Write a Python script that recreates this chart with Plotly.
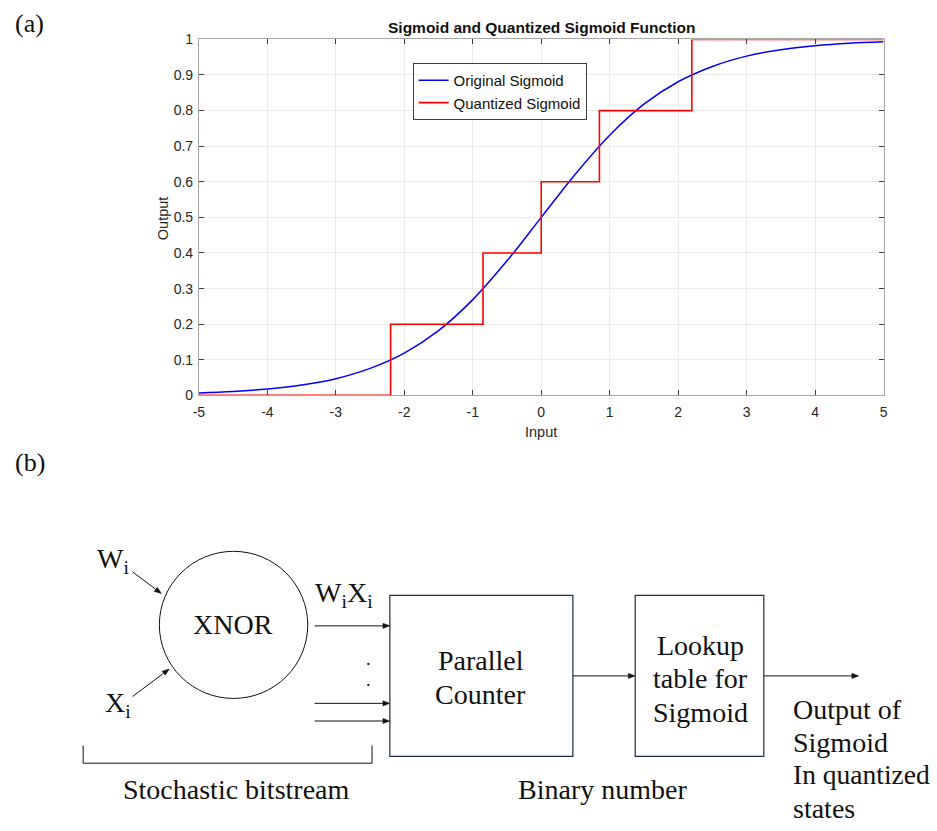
import plotly.graph_objects as go

W, H = 937, 831

# ---- data ----
sig_x = [-5, -4.5, -4, -3.5, -3, -2.5, -2, -1.5, -1, -0.5, 0, 0.5, 1, 1.5, 2, 2.5, 3, 3.5, 4, 4.5, 5]
sig_y = [0.007, 0.011, 0.018, 0.029, 0.047, 0.076, 0.119, 0.182, 0.269, 0.378, 0.5,
         0.622, 0.731, 0.818, 0.881, 0.924, 0.953, 0.971, 0.982, 0.989, 0.993]
q_x = [-5, -2.2, -0.85, 0, 0.85, 2.2, 5]
q_y = [0, 0.2, 0.4, 0.6, 0.8, 1.0, 1.0]
x_ticks = [-5, -4, -3, -2, -1, 0, 1, 2, 3, 4, 5]
x_tick_text = ["-5", "-4", "-3", "-2", "-1", "0", "1", "2", "3", "4", "5"]
y_ticks = [0, 0.1, 0.2, 0.3, 0.4, 0.5, 0.6, 0.7, 0.8, 0.9, 1]
y_tick_text = ["0", "0.1", "0.2", "0.3", "0.4", "0.5", "0.6", "0.7", "0.8", "0.9", "1"]


def px(x):
    return x / W


def py(y):
    return 1 - y / H


fig = go.Figure()
fig.add_trace(go.Scatter(x=sig_x, y=sig_y, mode="lines", name="Original Sigmoid",
                         line=dict(color="#0000FF", width=1.5, shape="spline")))
fig.add_trace(go.Scatter(x=q_x, y=q_y, mode="lines", name="Quantized Sigmoid",
                         line=dict(color="#FF0000", width=1.6, shape="hv")))

SANS = "Liberation Sans, Arial, sans-serif"
SERIF = "Liberation Serif, Times New Roman, serif"
axcol = "#A6A6A6"

fig.update_layout(
    width=W, height=H,
    margin=dict(l=0, r=0, t=0, b=0),
    plot_bgcolor="white", paper_bgcolor="white",
    showlegend=True,
    legend=dict(x=px(411), y=py(56), xanchor="left", yanchor="top",
                bgcolor="white", bordercolor="#404040", borderwidth=1,
                font=dict(family=SANS, size=15, color="#111"),
                itemwidth=30, tracegroupgap=0),
    xaxis=dict(domain=[px(195), px(887)], range=[-5, 5], tickvals=x_ticks, ticktext=x_tick_text,
               ticks="inside", ticklen=5, tickcolor="#404040", mirror="ticks",
               showline=True, linecolor=axcol, linewidth=1,
               showgrid=True, gridcolor="#EBEBEB", zeroline=False,
               tickfont=dict(family=SANS, size=14, color="#262626"),
               ticklabelstandoff=4, anchor="y"),
    yaxis=dict(domain=[py(395), py(32)], range=[0, 1], tickvals=y_ticks, ticktext=y_tick_text,
               ticks="inside", ticklen=5, tickcolor="#404040", mirror="ticks",
               showline=True, linecolor=axcol, linewidth=1,
               showgrid=True, gridcolor="#EBEBEB", zeroline=False,
               tickfont=dict(family=SANS, size=14, color="#262626"),
               ticklabelstandoff=2, anchor="x"),
)

ann = []


def text(x, y, s, size=28, family=SERIF, xanchor="center", **kw):
    ann.append(dict(x=px(x), y=py(y), xref="paper", yref="paper", text=s, showarrow=False,
                    xanchor=xanchor, yanchor="middle",
                    font=dict(family=family, size=size, color=kw.pop("color", "#111")), **kw))


# chart texts
text(541, 20, "<b>Sigmoid and Quantized Sigmoid Function</b>", size=15.5, family=SANS)
text(541, 432, "Input", size=14.5, family=SANS, color="#262626")
text(159, 214, "Output", size=14.5, family=SANS, color="#262626", textangle=-90)
text(24, 16, "(a)", size=26)
text(24, 463, "(b)", size=26)

# diagram texts
text(108, 563, "W<sub>i</sub>")
text(113, 710, "X<sub>i</sub>")
text(229, 629, "XNOR")
text(342, 598, "W<sub>i</sub>X<sub>i</sub>")
text(366, 664, ".", size=18)
text(366, 685, ".", size=18)
text(480, 665, "Parallel")
text(480, 700, "Counter")
text(702, 650, "Lookup")
text(702, 684, "table for")
text(702, 718, "Sigmoid")
text(233, 797, "Stochastic bitstream")
text(603, 797, "Binary number")
text(793, 715, "Output of", xanchor="left")
text(793, 749, "Sigmoid", xanchor="left")
text(793, 782, "In quantized", xanchor="left", size=27.5)
text(793, 816, "states", xanchor="left")

fig.update_layout(annotations=ann)

shapes = []


def arrow(x0, y0, x1, y1, head=7, half=2.6):
    dx, dy = x1 - x0, y1 - y0
    L = (dx * dx + dy * dy) ** 0.5
    ux, uy = dx / L, dy / L
    bx, by = x1 - ux * head, y1 - uy * head
    nx, ny = -uy, ux
    shapes.append(dict(type="line", xref="paper", yref="paper",
                       x0=px(x0), y0=py(y0), x1=px(bx), y1=py(by),
                       line=dict(color="#111", width=1)))
    p = (f"M {px(x1)} {py(y1)} L {px(bx + nx * half)} {py(by + ny * half)} "
         f"L {px(bx - nx * half)} {py(by - ny * half)} Z")
    shapes.append(dict(type="path", xref="paper", yref="paper", path=p,
                       fillcolor="#111", line=dict(color="#111", width=0.5)))


arrow(128, 575, 157, 597)
arrow(128, 702, 165, 674)
arrow(312, 630, 388, 630)
arrow(312, 709, 388, 709)
arrow(312, 727, 388, 727)
arrow(573, 681, 636, 681)
arrow(766, 681, 862, 681)

shapes.append(dict(type="circle", xref="paper", yref="paper",
                   x0=px(155), x1=px(305), y0=py(704), y1=py(554),
                   line=dict(color="#111", width=1)))
box_col = "#1F2A44"
shapes.append(dict(type="rect", xref="paper", yref="paper",
                   x0=px(388), x1=px(573), y0=py(763), y1=py(599),
                   line=dict(color=box_col, width=1.2)))
shapes.append(dict(type="rect", xref="paper", yref="paper",
                   x0=px(636), x1=px(766), y0=py(763), y1=py(599),
                   line=dict(color=box_col, width=1.2)))
# bracket
shapes.append(dict(type="path", xref="paper", yref="paper",
                   path=f"M {px(78)} {py(752)} L {px(78)} {py(770)} L {px(370)} {py(770)} L {px(370)} {py(752)}",
                   line=dict(color="#111", width=1)))
fig.update_layout(shapes=shapes)

fig.write_html("out.html", config={"displayModeBar": False},
               post_script="document.body.style.margin='0';document.body.style.overflow='hidden';"
                           "document.documentElement.style.overflow='hidden';")
